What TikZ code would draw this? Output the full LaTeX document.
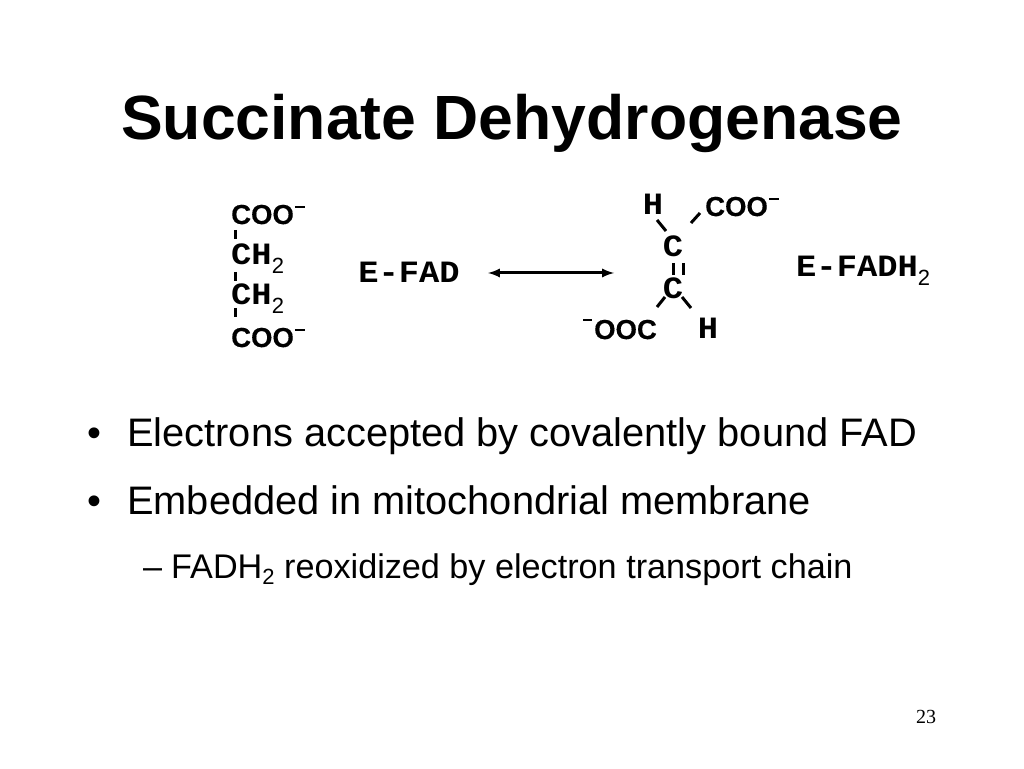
\documentclass[tikz,border=0pt]{standalone}
\usepackage{fontspec}
\setmainfont{Liberation Sans}
\newfontfamily\slidenum{Liberation Serif}
\newfontfamily\coofont{Liberation Sans}[FakeBold=0.4]
\newfontfamily\chemfont{Liberation Mono}[BoldFont={Liberation Mono Bold},BoldFeatures={FakeStretch=1.09}]
\usepackage{tikz}
\newcommand{\subtwo}{\raisebox{-9pt}{\fontsize{22}{22}\selectfont\rmfamily\mdseries 2}}
\newcommand{\chg}{\hspace{1pt}\rule[16pt]{10pt}{2pt}}
\newcommand{\chgl}{\rule[18pt]{9pt}{2pt}\hspace{2pt}}
\newcommand{\coo}[1]{{\fontsize{27.5}{27.5}\selectfont\coofont #1}}
\tikzset{
  atom/.style={inner sep=0pt,font=\fontsize{31}{31}\selectfont\chemfont\bfseries},
  bond/.style={line width=3pt},
  bodyline/.style={anchor=base west,inner sep=0pt,font=\fontsize{39.8}{39.8}\selectfont},
  subline/.style={anchor=base west,inner sep=0pt,font=\fontsize{34.2}{34.2}\selectfont}
}
\begin{document}
\begin{tikzpicture}[x=1pt,y=1pt]
  \useasboundingbox (0,0) rectangle (1024,768);
  \draw (512,645) node[inner sep=0pt,font=\fontsize{62.5}{62.5}\selectfont\bfseries] (title) {Succinate Dehydrogenase};

  % left column
  \draw (231,544) node[atom,anchor=base west] (cooa) {\coo{COO}\chg};
  \draw (231,503) node[atom,anchor=base west] (cha) {CH\subtwo};
  \draw (231,463) node[atom,anchor=base west] (chb) {CH\subtwo};
  \draw (231,421) node[atom,anchor=base west] (coob) {\coo{COO}\chg};
  \path[-] ([shift={(4,-6)}]cooa.base west) edge[bond] ([shift={(4,26)}]cha.base west);
  \path[-] ([shift={(4,-7)}]cha.base west) edge[bond] ([shift={(4,24)}]chb.base west);
  \path[-] ([shift={(4,-3)}]chb.base west) edge[bond] ([shift={(4,30)}]coob.base west);

  \draw (409,485) node[atom,anchor=base] (efad) {E-FAD};
  \draw (488,495) coordinate (arrowl) (614,495) coordinate (arrowr);
  \draw[<->,>=latex,line width=3pt] (arrowl) -- (arrowr);

  % right molecule
  \draw (653,553) node[atom,anchor=base] (ha) {H};
  \draw (705,552) node[atom,anchor=base west] (cooc) {\coo{COO}\chg};
  \draw (673,511) node[atom,anchor=base] (ca) {C};
  \draw (673,469) node[atom,anchor=base] (cb) {C};
  \draw (657,429) node[atom,anchor=base east] (cood) {\chgl\coo{OOC}};
  \draw (708,429) node[atom,anchor=base] (hb) {H};
  \path[-] ([shift={(4,-5)}]ha.base) edge[bond] ([shift={(-7,26)}]ca.base);
  \path[-] ([shift={(18,34)}]ca.base) edge[bond] ([shift={(-5,3)}]cooc.base west);
  \path[-] ([shift={(0,-6)}]ca.base) edge[bond] ([shift={(0,24)}]cb.base);
  \path[-] ([shift={(10,-6)}]ca.base) edge[bond] ([shift={(10,24)}]cb.base);
  \path[-] ([shift={(-8,2)}]cb.base) edge[bond] ([shift={(0,32)}]cood.base east);
  \path[-] ([shift={(9,2)}]cb.base) edge[bond] ([shift={(-17,31)}]hb.base);

  \draw (796,491) node[atom,anchor=base west] (efadh) {E-FADH\subtwo};

  % bullets
  \draw (127,321) node[bodyline] (linea) {Electrons accepted by covalently bound FAD};
  \draw (87,321) node[bodyline] (bula) {•};
  \draw (127,253) node[bodyline] (lineb) {Embedded in mitochondrial membrane};
  \draw (87,253) node[bodyline] (bulb) {•};
  \draw (171,189) node[subline] (linec) {FADH\raisebox{-6pt}{\fontsize{22}{22}\selectfont 2} reoxidized by electron transport chain};
  \draw (143,189) node[subline] (dashc) {–};

  \draw (926,51) node[inner sep=0pt,font=\fontsize{20}{20}\selectfont\slidenum] (pagenum) {23};
\end{tikzpicture}
\end{document}
